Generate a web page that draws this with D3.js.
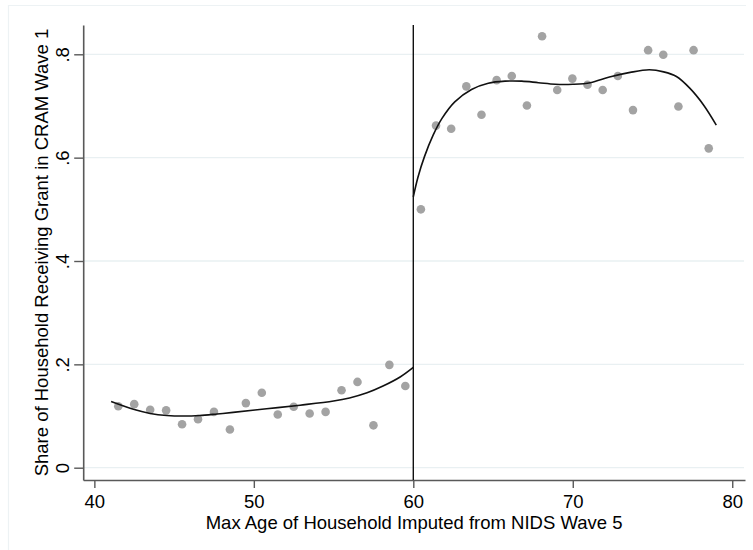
<!DOCTYPE html>
<html>
<head>
<meta charset="utf-8">
<script src="https://cdn.jsdelivr.net/npm/d3@7"></script>
<style>
  html, body { margin: 0; padding: 0; background: #fff; }
  svg { display: block; font-family: "Liberation Sans", Arial, sans-serif; }
</style>
</head>
<body>
<svg id="chart" width="753" height="550"></svg>
<script>
// Binned means: 19 bins of width 1 below the cutoff, 20 bins of width 0.95 above it
const leftBinAge = [41.5, 42.5, 43.5, 44.5, 45.5, 46.5, 47.5, 48.5, 49.5, 50.5,
                    51.5, 52.5, 53.5, 54.5, 55.5, 56.5, 57.5, 58.5, 59.5];
const leftBinShare = [0.119, 0.123, 0.112, 0.111, 0.084, 0.094, 0.108, 0.074, 0.125, 0.145,
                      0.103, 0.118, 0.105, 0.108, 0.150, 0.166, 0.082, 0.199, 0.158];
const rightBinAge = [60.475, 61.425, 62.375, 63.325, 64.275, 65.225, 66.175, 67.125, 68.075, 69.025,
                     69.975, 70.925, 71.875, 72.825, 73.775, 74.725, 75.675, 76.625, 77.575, 78.525];
const rightBinShare = [0.500, 0.662, 0.656, 0.738, 0.683, 0.750, 0.758, 0.701, 0.835, 0.731,
                       0.753, 0.741, 0.731, 0.758, 0.692, 0.808, 0.799, 0.699, 0.808, 0.618];

// Fitted polynomial on each side of the cutoff, sampled along age
const leftFitAge = [41.05, 42.45, 43.5, 44.55, 45.6, 46.6, 47.7, 48.7, 50.8, 52.9,
                    55.0, 56.0, 57.1, 58.1, 59.2, 60];
const leftFitShare = [0.128, 0.113, 0.105, 0.101, 0.100, 0.101, 0.104, 0.107, 0.114, 0.121,
                      0.129, 0.135, 0.145, 0.158, 0.176, 0.194];
const rightFitAge = [60, 60.3, 60.7, 61.25, 61.8, 62.6, 63.65, 64.7, 65.75, 66.8, 67.85,
                     68.9, 70.0, 71.1, 72.3, 73.6, 74.8, 75.7, 76.5, 77.35, 78.2, 79.0];
const rightFitShare = [0.524, 0.563, 0.602, 0.644, 0.676, 0.708, 0.732, 0.744, 0.748, 0.748, 0.745,
                       0.742, 0.742, 0.745, 0.756, 0.765, 0.770, 0.766, 0.757, 0.734, 0.702, 0.663];

const cutoff = 60;
const xTicks = [40, 50, 60, 70, 80];
const yTicks = [0, 0.2, 0.4, 0.6, 0.8];
const yTickLabels = ["0", ".2", ".4", ".6", ".8"];
const xTitle = "Max Age of Household Imputed from NIDS Wave 5";
const yTitle = "Share of Household Receiving Grant in CRAM Wave 1";

const svg = d3.select("#chart");
const fontSize = 18.5;

const plot = { left: 83.2, right: 745, top: 25, bottom: 480 };

const x = d3.scaleLinear().domain([39.3, 80.8]).range([plot.left, plot.right]);
const y = d3.scaleLinear().domain([-0.0238, 0.8567]).range([plot.bottom, plot.top]);

// faint graph-region frame (top and left edges)
svg.append("path")
  .attr("d", "M8.5,550 V5.5 H746")
  .attr("fill", "none")
  .attr("stroke", "#edf2f4")
  .attr("stroke-width", 1.2);

// horizontal gridlines
svg.append("g")
  .selectAll("line")
  .data(yTicks)
  .join("line")
  .attr("x1", plot.left)
  .attr("x2", plot.right - 1)
  .attr("y1", d => y(d))
  .attr("y2", d => y(d))
  .attr("stroke", "#e9f0f2")
  .attr("stroke-width", 1.3);

// y axis
const yAxis = svg.append("g")
  .attr("transform", `translate(${plot.left},0)`)
  .call(d3.axisLeft(y)
    .tickValues(yTicks)
    .tickFormat((d, i) => yTickLabels[i])
    .tickSize(9)
    .tickSizeOuter(0));
yAxis.select(".domain").attr("stroke", "#595959").attr("stroke-width", 1.6);
yAxis.selectAll(".tick line").attr("stroke", "#595959").attr("stroke-width", 1.4);
yAxis.selectAll(".tick text")
  .attr("x", null).attr("dy", null)
  .attr("text-anchor", "middle")
  .attr("transform", "translate(-14,0) rotate(-90)")
  .attr("fill", "#000")
  .style("font-size", fontSize + "px")
  .style("font-family", '"Liberation Sans", Arial, sans-serif');

// x axis
const xAxis = svg.append("g")
  .attr("transform", `translate(0,${plot.bottom})`)
  .call(d3.axisBottom(x)
    .tickValues(xTicks)
    .tickSize(8)
    .tickPadding(6.8)
    .tickSizeOuter(0));
xAxis.select(".domain").attr("stroke", "#595959").attr("stroke-width", 1.6);
xAxis.selectAll(".tick line").attr("stroke", "#595959").attr("stroke-width", 1.4);
xAxis.selectAll(".tick text")
  .attr("fill", "#000")
  .style("font-size", fontSize + "px")
  .style("font-family", '"Liberation Sans", Arial, sans-serif');

// axis titles
svg.append("text")
  .attr("x", (plot.left + plot.right) / 2)
  .attr("y", 529.2)
  .attr("text-anchor", "middle")
  .style("font-size", fontSize + "px")
  .text(xTitle);

svg.append("text")
  .attr("transform", `translate(48,${(plot.top + plot.bottom) / 2}) rotate(-90)`)
  .attr("text-anchor", "middle")
  .style("font-size", fontSize + "px")
  .text(yTitle);

// binned scatter
const dots = svg.append("g").attr("fill", "#a3a3a3");
dots.selectAll("circle.left")
  .data(d3.zip(leftBinAge, leftBinShare))
  .join("circle")
  .attr("class", "left")
  .attr("cx", d => x(d[0]))
  .attr("cy", d => y(d[1]))
  .attr("r", 4.3);
dots.selectAll("circle.right")
  .data(d3.zip(rightBinAge, rightBinShare))
  .join("circle")
  .attr("class", "right")
  .attr("cx", d => x(d[0]))
  .attr("cy", d => y(d[1]))
  .attr("r", 4.3);

// cutoff line
svg.append("line")
  .attr("x1", x(cutoff)).attr("x2", x(cutoff))
  .attr("y1", plot.top).attr("y2", plot.bottom)
  .attr("stroke", "#111")
  .attr("stroke-width", 1.4);

// fitted curves
const fitLine = d3.line()
  .x(d => x(d[0]))
  .y(d => y(d[1]))
  .curve(d3.curveCatmullRom.alpha(0.5));

svg.append("path")
  .datum(d3.zip(leftFitAge, leftFitShare))
  .attr("d", fitLine)
  .attr("fill", "none")
  .attr("stroke", "#111")
  .attr("stroke-width", 1.6);

svg.append("path")
  .datum(d3.zip(rightFitAge, rightFitShare))
  .attr("d", fitLine)
  .attr("fill", "none")
  .attr("stroke", "#111")
  .attr("stroke-width", 1.6);
</script>
</body>
</html>
